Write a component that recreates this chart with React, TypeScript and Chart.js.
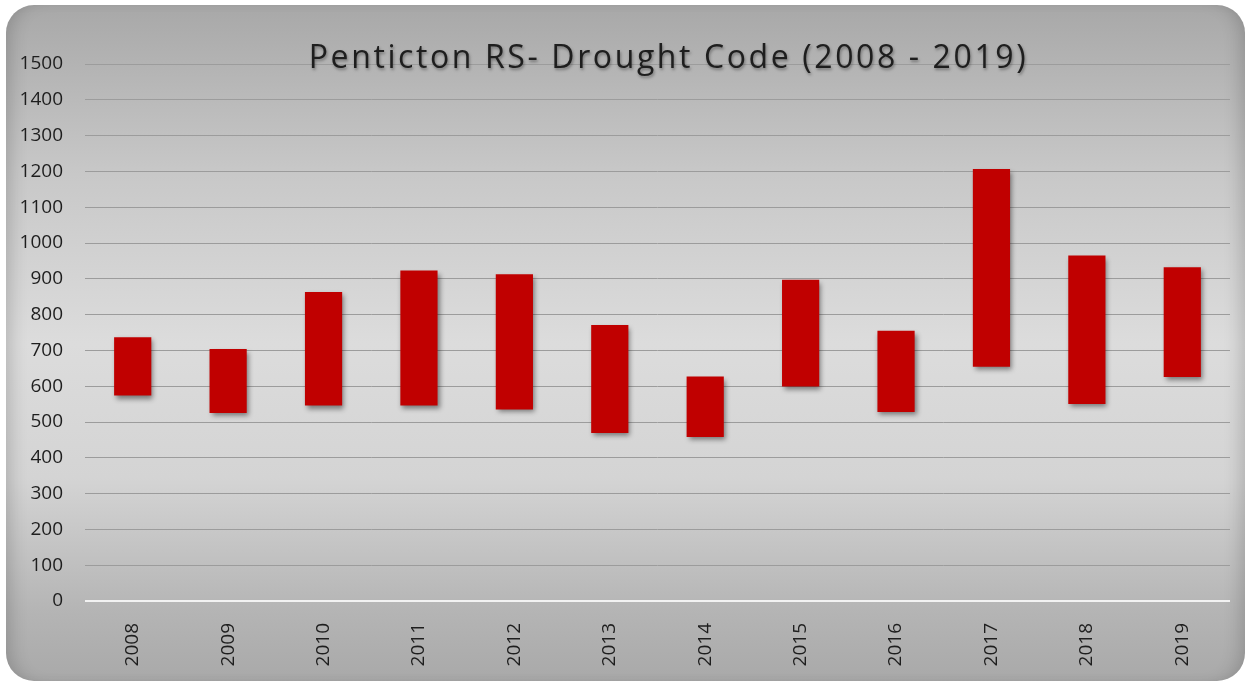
import React, { useEffect, useRef } from "react";
import { Chart, registerables } from "chart.js";

Chart.register(...registerables);

const years = ["2008", "2009", "2010", "2011", "2012", "2013", "2014", "2015", "2016", "2017", "2018", "2019"];
const lowValues = [574, 525, 546, 546, 535, 469, 458, 599, 528, 654, 550, 626];
const highValues = [737, 704, 863, 923, 913, 771, 627, 897, 755, 1207, 965, 932];
const titleText = "Penticton RS- Drought Code (2008 - 2019)";

const FONT = "'Open Sans', 'Liberation Sans', sans-serif";

const barShadow = {
  id: "barShadow",
  beforeDatasetsDraw(chart: any) {
    const ctx = chart.ctx;
    ctx.save();
    ctx.shadowColor = "rgba(0,0,0,0.45)";
    ctx.shadowBlur = 5;
    ctx.shadowOffsetX = 2;
    ctx.shadowOffsetY = 3;
  },
  afterDatasetsDraw(chart: any) {
    chart.ctx.restore();
  },
};

const titlePlugin = {
  id: "overlayTitle",
  afterDraw(chart: any) {
    const ctx = chart.ctx;
    const area = chart.chartArea;
    ctx.save();
    ctx.font = `32px ${FONT}`;
    (ctx as any).letterSpacing = "2.6px";
    ctx.fillStyle = "#1e1e1e";
    ctx.textAlign = "center";
    ctx.textBaseline = "middle";
    ctx.shadowColor = "rgba(0,0,0,0.35)";
    ctx.shadowBlur = 3;
    ctx.shadowOffsetX = 1;
    ctx.shadowOffsetY = 2;
    ctx.fillText(titleText, (area.left + area.right) / 2 + 11, area.top - 5);
    ctx.restore();
  },
};

export default function App() {
  const canvasRef = useRef<HTMLCanvasElement | null>(null);

  useEffect(() => {
    document.body.style.margin = "0";
    if (!canvasRef.current) return;
    const chart = new Chart(canvasRef.current, {
      type: "bar",
      data: {
        labels: years,
        datasets: [
          {
            label: "Drought Code",
            data: years.map((_, i) => [lowValues[i], highValues[i]]) as any,
            backgroundColor: "#c00000",
            borderWidth: 0,
            barPercentage: 0.39,
            categoryPercentage: 1,
          },
        ],
      },
      options: {
        animation: false,
        responsive: false,
        maintainAspectRatio: false,
        layout: { padding: { top: 64, right: 19, left: 0, bottom: 0 } },
        plugins: {
          legend: { display: false },
          title: { display: false },
          tooltip: { enabled: false },
        },
        scales: {
          x: {
            grid: { display: false },
            border: { display: false },
            ticks: {
              maxRotation: 90,
              minRotation: 90,
              padding: 14,
              color: "#1e1e1e",
              font: { family: FONT, size: 19 },
            },
            afterFit(scale: any) {
              scale.height = 80;
            },
          },
          y: {
            min: 0,
            max: 1500,
            ticks: {
              stepSize: 100,
              padding: 22,
              color: "#1e1e1e",
              font: { family: FONT, size: 19 },
              callback: (v: any) => String(v),
            },
            border: { display: false },
            grid: {
              drawTicks: false,
              color: (c: any) => (c.tick && c.tick.value === 0 ? "#f2f2f2" : "#9c9c9c"),
              lineWidth: (c: any) => (c.tick && c.tick.value === 0 ? 2 : 1),
            },
            afterFit(scale: any) {
              scale.width = 85;
            },
          },
        },
      },
      plugins: [barShadow, titlePlugin],
    });
    return () => chart.destroy();
  }, []);

  return (
    <div style={{ position: "absolute", left: 0, top: 0, width: 1249, height: 681, background: "#ffffff" }}>
      <div
        style={{
          position: "absolute",
          left: 6,
          top: 5,
          width: 1239,
          height: 676,
          borderRadius: 28,
          background: "linear-gradient(to bottom, #a8a8a8 0%, #c8c8c8 25%, #dcdcdc 50%, #d4d4d4 70%, #b4b4b4 90%, #a9a9a9 100%)",
          boxShadow: "inset 14px 0 18px -10px rgba(0,0,0,0.18), inset -14px 0 18px -10px rgba(0,0,0,0.18)",
        }}
      />
      <canvas ref={canvasRef} width={1249} height={681} style={{ position: "absolute", left: 0, top: 0, width: 1249, height: 681 }} />
    </div>
  );
}
